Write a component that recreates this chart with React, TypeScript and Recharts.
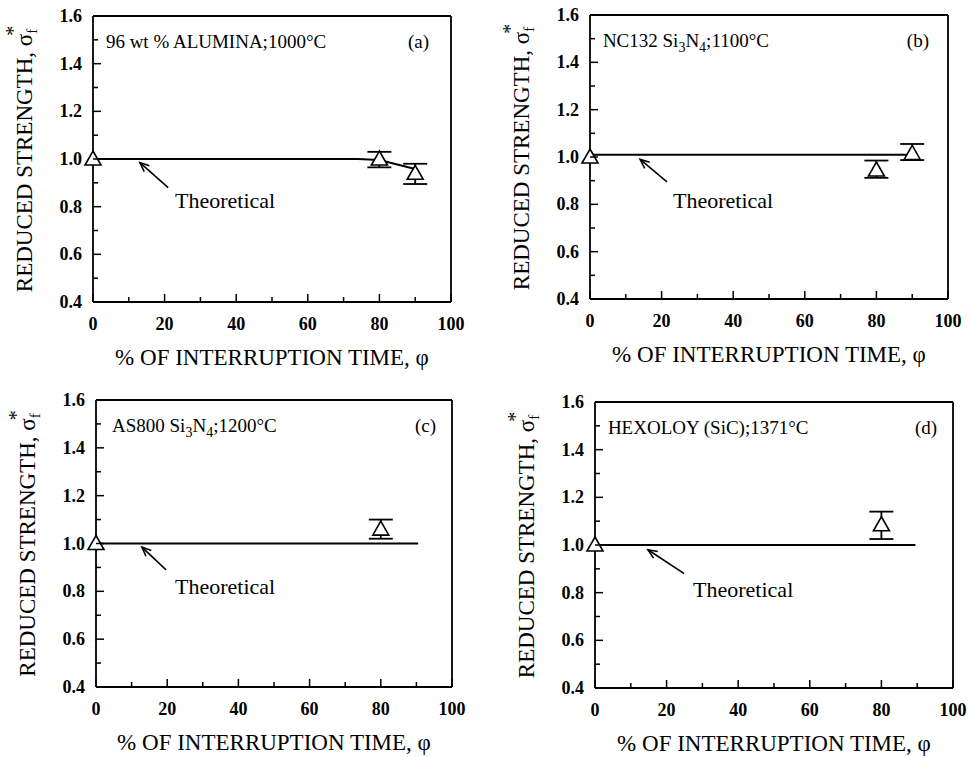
import {
  ComposedChart,
  Line,
  Scatter,
  ErrorBar,
  XAxis,
  YAxis,
  ReferenceLine,
  ReferenceDot,
} from "recharts";

const FONT = "Liberation Serif";
const serif = (size: number, bold = false) => ({
  fontFamily: FONT,
  fontSize: size,
  fontWeight: bold ? 700 : 400,
});

const xTicks = [0, 10, 20, 30, 40, 50, 60, 70, 80, 90, 100];
const yTicks = [0.4, 0.5, 0.6, 0.7, 0.8, 0.9, 1.0, 1.1, 1.2, 1.3, 1.4, 1.5, 1.6];

// (a) 96 wt % alumina, 1000°C
const theoryXA = [0, 74, 80, 90];
const theoryYA = [1.0, 1.0, 0.996, 0.958];
const measXA = [0, 80, 90];
const measYA = [1.0, 1.0, 0.94];
const errLowA = [0, 0.035, 0.045];
const errHighA = [0, 0.03, 0.04];

// (b) NC132 Si3N4, 1100°C
const theoryXB = [0, 91];
const theoryYB = [1.01, 1.01];
const measXB = [0, 80, 90];
const measYB = [1.0, 0.945, 1.015];
const errLowB = [0, 0.033, 0.028];
const errHighB = [0, 0.04, 0.04];

// (c) AS800 Si3N4, 1200°C
const theoryXC = [0, 90.5];
const theoryYC = [1.0, 1.0];
const measXC = [0, 80];
const measYC = [1.0, 1.06];
const errLowC = [0, 0.04];
const errHighC = [0, 0.04];

// (d) Hexoloy SiC, 1371°C
const theoryXD = [0, 89.5];
const theoryYD = [1.0, 1.0];
const measXD = [0, 80];
const measYD = [1.0, 1.085];
const errLowD = [0, 0.06];
const errHighD = [0, 0.055];

// annotation anchors: [arrow tail, arrow tip, label]
const arrowA = [[21, 0.88], [13.1, 0.985], [22.9, 0.795]];
const arrowB = [[21.5, 0.895], [14, 0.99], [23.2, 0.785]];
const arrowC = [[19.7, 0.89], [12.9, 0.985], [22.2, 0.79]];
const arrowD = [[24.9, 0.88], [14.8, 0.98], [27.4, 0.78]];

type Seg = { text: string; sub?: boolean };

const titleA: Seg[] = [{ text: "96 wt % ALUMINA;1000°C" }];
const titleB: Seg[] = [
  { text: "NC132 Si" },
  { text: "3", sub: true },
  { text: "N" },
  { text: "4", sub: true },
  { text: ";1100°C" },
];
const titleC: Seg[] = [
  { text: "AS800 Si" },
  { text: "3", sub: true },
  { text: "N" },
  { text: "4", sub: true },
  { text: ";1200°C" },
];
const titleD: Seg[] = [{ text: "HEXOLOY (SiC);1371°C" }];

const tagX = [88, 88.5, 89.6, 89.4];
const titleX = [3.6, 3.6, 4.5, 3.6];
const titleY = 1.465;

const toLine = (xs: number[], ys: number[]) => xs.map((x, i) => ({ x, y: ys[i] }));
const toPoints = (xs: number[], ys: number[], lo: number[], hi: number[]) =>
  xs.map((x, i) => ({
    x,
    y: ys[i],
    err: lo[i] === 0 && hi[i] === 0 ? null : [lo[i], hi[i]],
  }));

// plot box (inner frame) of each panel in page pixels
const panels = [
  {
    tag: "(a)",
    title: titleA,
    line: toLine(theoryXA, theoryYA),
    points: toPoints(measXA, measYA, errLowA, errHighA),
    arrow: arrowA,
    left: 0,
    top: 0,
    width: 480,
    height: 378,
    box: { top: 16, right: 29, bottom: 76, left: 93 },
  },
  {
    tag: "(b)",
    title: titleB,
    line: toLine(theoryXB, theoryYB),
    points: toPoints(measXB, measYB, errLowB, errHighB),
    arrow: arrowB,
    left: 480,
    top: 0,
    width: 489,
    height: 378,
    box: { top: 15, right: 21, bottom: 79, left: 110 },
  },
  {
    tag: "(c)",
    title: titleC,
    line: toLine(theoryXC, theoryYC),
    points: toPoints(measXC, measYC, errLowC, errHighC),
    arrow: arrowC,
    left: 0,
    top: 378,
    width: 480,
    height: 379,
    box: { top: 22, right: 28, bottom: 70, left: 96 },
  },
  {
    tag: "(d)",
    title: titleD,
    line: toLine(theoryXD, theoryYD),
    points: toPoints(measXD, measYD, errLowD, errHighD),
    arrow: arrowD,
    left: 480,
    top: 378,
    width: 489,
    height: 379,
    box: { top: 24, right: 16, bottom: 69, left: 115 },
  },
];

const isMajorX = (v: number) => Math.round(v) % 20 === 0;
const isMajorY = (v: number) => Math.round(v * 10) % 2 === 0;

const BottomTick = (p: any) => {
  const { x, y, payload } = p;
  const major = isMajorX(payload.value);
  return (
    <g>
      <line x1={x} y1={y} x2={x} y2={y - (major ? 8 : 5)} stroke="#000" strokeWidth={1.5} />
      {major && (
        <text x={x} y={y + 28} textAnchor="middle" fill="#000" style={serif(18, true)}>
          {payload.value}
        </text>
      )}
    </g>
  );
};

const TopTick = (p: any) => {
  const { x, y, payload } = p;
  const major = isMajorX(payload.value);
  return <line x1={x} y1={y} x2={x} y2={y + (major ? 8 : 5)} stroke="#000" strokeWidth={1.5} />;
};

const LeftTick = (p: any) => {
  const { x, y, payload } = p;
  const major = isMajorY(payload.value);
  return (
    <g>
      <line x1={x} y1={y} x2={x + (major ? 8 : 5)} y2={y} stroke="#000" strokeWidth={1.5} />
      {major && (
        <text x={x - 11} y={y + 6} textAnchor="end" fill="#000" style={serif(18, true)}>
          {Number(payload.value).toFixed(1)}
        </text>
      )}
    </g>
  );
};

const RightTick = (p: any) => {
  const { x, y, payload } = p;
  const major = isMajorY(payload.value);
  return <line x1={x} y1={y} x2={x - (major ? 8 : 5)} y2={y} stroke="#000" strokeWidth={1.5} />;
};

const Triangle = (p: any) => {
  const { cx, cy } = p;
  if (cx == null || cy == null) return null;
  return (
    <polygon
      points={`${cx},${cy - 8} ${cx + 8},${cy + 6} ${cx - 8},${cy + 6}`}
      fill="#fff"
      stroke="#000"
      strokeWidth={1.6}
    />
  );
};

const NoShape = () => <g />;

const Arrow = (p: any) => {
  const { x1, y1, x2, y2 } = p;
  const ang = Math.atan2(y2 - y1, x2 - x1);
  const len = 10;
  const spread = 0.4;
  const ax = x2 - len * Math.cos(ang - spread);
  const ay = y2 - len * Math.sin(ang - spread);
  const bx = x2 - len * Math.cos(ang + spread);
  const by = y2 - len * Math.sin(ang + spread);
  return (
    <g stroke="#000" strokeWidth={1.6} fill="none">
      <line x1={x1} y1={y1} x2={x2} y2={y2} />
      <polyline points={`${ax},${ay} ${x2},${y2} ${bx},${by}`} />
    </g>
  );
};

const PanelTitle = ({ cx, cy, segs }: { cx: number; cy: number; segs: Seg[] }) => (
  <text x={cx} y={cy} fill="#000" style={serif(19)}>
    {segs.map((s, i) => {
      const prev = segs[i - 1];
      let dy = 0;
      if (s.sub && !(prev && prev.sub)) dy = 5;
      if (!s.sub && prev && prev.sub) dy = -5;
      return (
        <tspan key={i} dy={dy} style={{ fontSize: s.sub ? 14 : 19 }}>
          {s.text}
        </tspan>
      );
    })}
  </text>
);

const AXIS = 1; // thin axis band so Recharts still draws the axis

const Panel = ({ cfg, idx }: { cfg: (typeof panels)[number]; idx: number }) => {
  const { box, width, height } = cfg;
  const margin = {
    top: box.top - AXIS,
    right: box.right - AXIS,
    bottom: box.bottom - AXIS,
    left: box.left - AXIS,
  };
  const plotH = height - box.top - box.bottom;
  const plotW = width - box.left - box.right;
  const [tail, tip, lab] = cfg.arrow;
  const frame = { stroke: "#000", strokeWidth: 1.8 };

  return (
    <div style={{ position: "absolute", left: cfg.left, top: cfg.top }}>
      <ComposedChart width={width} height={height} margin={margin}>
        <XAxis
          dataKey="x"
          type="number"
          domain={[0, 100]}
          ticks={xTicks}
          interval={0}
          height={AXIS}
          tickSize={0}
          tickMargin={0}
          tickLine={false}
          axisLine={frame}
          tick={(p: any) => <BottomTick {...p} />}
          label={{
            content: () => (
              <text
                x={box.left + plotW / 2}
                y={box.top + plotH + 63}
                textAnchor="middle"
                fill="#000"
                style={serif(23)}
              >
                % OF INTERRUPTION TIME, φ
              </text>
            ),
          }}
        />
        <XAxis
          xAxisId="top"
          orientation="top"
          dataKey="x"
          type="number"
          domain={[0, 100]}
          ticks={xTicks}
          interval={0}
          height={AXIS}
          tickSize={0}
          tickMargin={0}
          tickLine={false}
          axisLine={frame}
          tick={(p: any) => <TopTick {...p} />}
        />
        <YAxis
          type="number"
          domain={[0.4, 1.6]}
          ticks={yTicks}
          interval={0}
          width={AXIS}
          tickSize={0}
          tickMargin={0}
          tickLine={false}
          axisLine={frame}
          tick={(p: any) => <LeftTick {...p} />}
          label={{
            content: () => {
              const tx = box.left - 61;
              const ty = box.top + plotH / 2;
              return (
                <text
                  transform={`translate(${tx},${ty}) rotate(-90)`}
                  textAnchor="middle"
                  fill="#000"
                  style={serif(23)}
                >
                  REDUCED STRENGTH, σ
                  <tspan dy={5} style={{ fontSize: 15 }}>
                    f
                  </tspan>
                  <tspan dx={-7} dy={-17} style={{ fontSize: 20 }}>
                    *
                  </tspan>
                </text>
              );
            },
          }}
        />
        <YAxis
          yAxisId="right"
          orientation="right"
          type="number"
          domain={[0.4, 1.6]}
          ticks={yTicks}
          interval={0}
          width={AXIS}
          tickSize={0}
          tickMargin={0}
          tickLine={false}
          axisLine={frame}
          tick={(p: any) => <RightTick {...p} />}
        />

        <Line
          data={cfg.line}
          dataKey="y"
          type="linear"
          stroke="#000"
          strokeWidth={2}
          dot={false}
          activeDot={false}
          isAnimationActive={false}
        />
        <Scatter data={cfg.points} dataKey="y" shape={<NoShape />} isAnimationActive={false}>
          <ErrorBar dataKey="err" direction="y" width={12} stroke="#000" strokeWidth={1.8} />
        </Scatter>
        <Scatter data={cfg.points} dataKey="y" shape={<Triangle />} isAnimationActive={false} />

        <ReferenceLine
          segment={[
            { x: tail[0], y: tail[1] },
            { x: tip[0], y: tip[1] },
          ]}
          shape={(p: any) => <Arrow {...p} />}
        />
        <ReferenceDot
          x={lab[0]}
          y={lab[1]}
          r={0}
          shape={(p: any) => (
            <text x={p.cx} y={p.cy} fill="#000" style={serif(22)}>
              Theoretical
            </text>
          )}
        />
        <ReferenceDot
          x={titleX[idx]}
          y={titleY}
          r={0}
          shape={(p: any) => <PanelTitle cx={p.cx} cy={p.cy} segs={cfg.title} />}
        />
        <ReferenceDot
          x={tagX[idx]}
          y={titleY}
          r={0}
          shape={(p: any) => (
            <text x={p.cx} y={p.cy} fill="#000" style={serif(19)}>
              {cfg.tag}
            </text>
          )}
        />
      </ComposedChart>
    </div>
  );
};

export default function App() {
  return (
    <div
      style={{
        position: "absolute",
        left: 0,
        top: 0,
        width: 969,
        height: 757,
        background: "#fff",
      }}
    >
      {panels.map((cfg, i) => (
        <Panel key={cfg.tag} cfg={cfg} idx={i} />
      ))}
    </div>
  );
}
